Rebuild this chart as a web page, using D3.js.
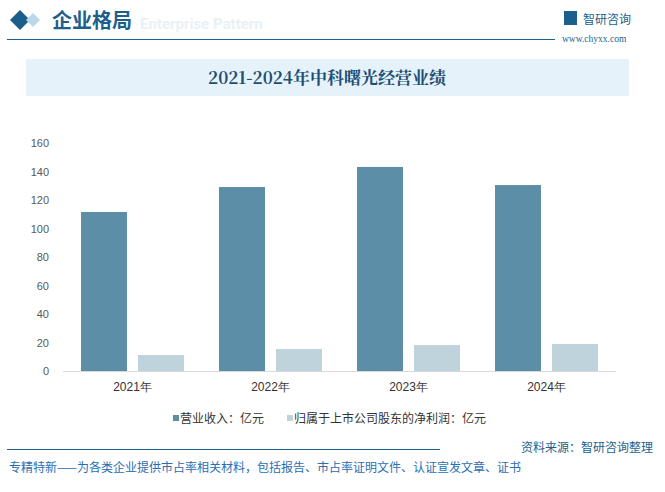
<!DOCTYPE html>
<html><head><meta charset="utf-8">
<script src="https://cdn.jsdelivr.net/npm/d3@7"></script>
<style>body{margin:0;background:#fff}svg{display:block;font-family:"Noto Sans CJK SC","Noto Sans",sans-serif}</style>
</head><body><svg id="c" width="665" height="492"></svg>
<script>
const categories=["2021年","2022年","2023年","2024年"];
const revenue=[111.6,129.1,143.2,130.5];
const netProfit=[11.2,15.4,18.2,19.0];
const yTicks=[0,20,40,60,80,100,120,140,160];
const seriesNames=["营业收入：亿元","归属于上市公司股东的净利润：亿元"];
const colors=["#5c8fa7","#bed3dc"];

const svg=d3.select("#c");
// header
svg.append("text").attr("x",140).attr("y",29).attr("font-size",15).attr("font-weight","bold").attr("fill","#e9f1f7").attr("font-family","Roboto,sans-serif").text("Enterprise Pattern");
svg.append("path").attr("d","M10,20 L20,10 L30,20 L20,30Z").attr("fill","#1d5f8c");
svg.append("path").attr("d","M26,20 L33,13 L40,20 L33,27Z").attr("fill","#bcd6ea");
svg.append("text").attr("x",52).attr("y",28).attr("font-size",20).attr("font-weight","bold").attr("fill","#1d5f8c").text("企业格局");
svg.append("line").attr("x1",7).attr("x2",555).attr("y1",39.5).attr("y2",39.5).attr("stroke","#1d5f8c").attr("stroke-width",1.2);
svg.append("rect").attr("x",564).attr("y",11).attr("width",13).attr("height",14).attr("fill","#1d5f8c");
svg.append("text").attr("x",583).attr("y",24).attr("font-size",12).attr("fill","#1d5f8c").text("智研咨询");
svg.append("text").attr("x",562).attr("y",42).attr("font-size",9.5).attr("fill","#1d5f8c").attr("font-family","Liberation Serif").text("www.chyxx.com");
// title
svg.append("rect").attr("x",26).attr("y",59).attr("width",603).attr("height",37).attr("fill","#e6f2fa");
svg.append("text").attr("x",327).attr("y",84).attr("text-anchor","middle").attr("font-size",17).attr("font-weight","bold").attr("fill","#1d4f73").attr("font-family","Noto Serif CJK SC,Noto Sans CJK SC").text("2021-2024年中科曙光经营业绩");

const x=d3.scaleBand().domain(categories).range([63.5,615.5]);
const y=d3.scaleLinear().domain([0,160]).range([371,143]);
const bw=46,gap=11;
categories.forEach((c,i)=>{
  const cx=x(c)+x.bandwidth()/2;
  svg.append("rect").attr("x",cx-gap/2-bw).attr("width",bw).attr("y",y(revenue[i])).attr("height",y(0)-y(revenue[i])).attr("fill",colors[0]);
  svg.append("rect").attr("x",cx+gap/2).attr("width",bw).attr("y",y(netProfit[i])).attr("height",y(0)-y(netProfit[i])).attr("fill",colors[1]);
});
const ya=svg.append("g").attr("transform","translate(52,0)").call(d3.axisLeft(y).tickValues(yTicks).tickSize(0));
ya.select(".domain").remove();
ya.selectAll("text").attr("font-size",11).attr("fill","#595959").attr("font-family","Liberation Sans,Arial");
svg.append("line").attr("x1",63).attr("x2",616).attr("y1",371.5).attr("y2",371.5).attr("stroke","#d9d9d9");
const xa=svg.append("g").attr("transform","translate(0,371)").call(d3.axisBottom(x).tickSize(0).tickPadding(11));
xa.select(".domain").remove();
xa.selectAll("text").attr("font-size",12).attr("fill","#333");
// legend
const lg=[[173,seriesNames[0]],[287,seriesNames[1]]];
lg.forEach(([lx,t],i)=>{
  svg.append("rect").attr("x",lx).attr("y",415).attr("width",6).attr("height",6).attr("fill",colors[i]);
  svg.append("text").attr("x",lx+7).attr("y",423).attr("font-size",12).attr("fill","#333").text(t);
});
// footer
svg.append("line").attr("x1",7).attr("x2",440).attr("y1",449.5).attr("y2",449.5).attr("stroke","#1d5f8c").attr("stroke-width",1.2);
svg.append("text").attr("x",653).attr("y",452).attr("text-anchor","end").attr("font-size",12).attr("fill","#1d5f8c").text("资料来源：智研咨询整理");
svg.append("text").attr("x",9).attr("y",472).attr("font-size",12).attr("fill","#2a6db3").text("专精特新——为各类企业提供市占率相关材料，包括报告、市占率证明文件、认证宣发文章、证书");
</script></body></html>
